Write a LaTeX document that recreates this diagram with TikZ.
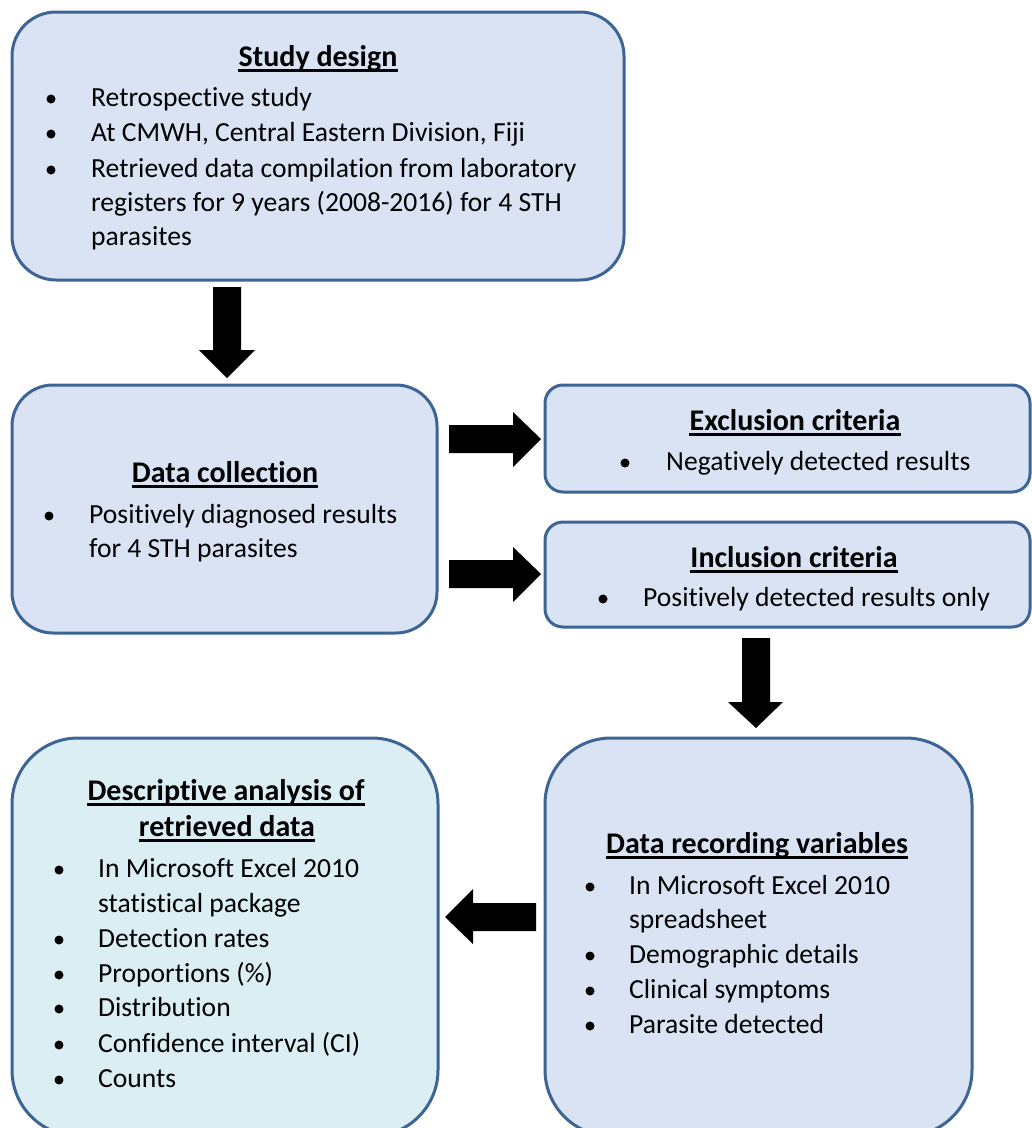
\documentclass[tikz,border=0pt]{standalone}
\usepackage{fontspec}
\setmainfont{Carlito}[RawFeature={-liga;-clig;-dlig}]
\definecolor{bfill}{HTML}{DAE3F3}
\definecolor{cfill}{HTML}{DAEEF3}
\definecolor{bline}{HTML}{3C6494}
\tikzset{
  box/.style={draw=bline, line width=3pt, fill=bfill, rectangle, inner sep=0pt},
  ttl/.style={font=\fontsize{30}{36}\selectfont\bfseries, inner sep=0pt, anchor=base},
  itm/.style={font=\fontsize{27.6}{34.6}\selectfont, inner sep=0pt, anchor=base west},
  dot/.style={circle, fill=black, inner sep=0pt, minimum size=9pt},
  blk/.style={fill=black},
  ul/.style={line width=2.5pt}
}
\begin{document}
\begin{tikzpicture}[x=1pt,y=-1pt]
\path[use as bounding box] (0,0) rectangle (1032,1128);
\clip (0,0) rectangle (1032,1128);
% boxes
\node[box, rounded corners=44pt, minimum width=612pt, minimum height=268pt] (b1) at (318,146) {};
\node[box, rounded corners=41pt, minimum width=425pt, minimum height=248pt] (b2) at (224.5,509) {};
\node[box, rounded corners=18pt, minimum width=485pt, minimum height=107pt] (b3) at (787.5,438.5) {};
\node[box, rounded corners=18pt, minimum width=485pt, minimum height=105pt] (b4) at (787.5,574.5) {};
\node[box, fill=cfill, rounded corners=66pt, minimum width=426pt, minimum height=398pt] (b5) at (225,937) {};
\node[box, rounded corners=66pt, minimum width=427pt, minimum height=398pt] (b6) at (758.5,937) {};
% arrows
\fill[blk] (213,287) -- (241,287) -- (241,350) -- (255,350) -- (227,378) -- (199,350) -- (213,350) -- cycle;
\fill[blk] (449,425) -- (513,425) -- (513,412) -- (541,439) -- (513,467) -- (513,453) -- (449,453) -- cycle;
\fill[blk] (449,560) -- (513,560) -- (513,547) -- (541,574) -- (513,602) -- (513,588) -- (449,588) -- cycle;
\fill[blk] (742,638) -- (770,638) -- (770,702) -- (783,702) -- (756,728) -- (728,702) -- (742,702) -- cycle;
\fill[blk] (536,903) -- (473,903) -- (473,889) -- (445,917) -- (473,944) -- (473,931) -- (536,931) -- cycle;
% box 1
\node[ttl] (t1) at (318,66) {Study design};
\draw[ul] ([yshift=-4.5pt]t1.base west) -- ([yshift=-4.5pt]t1.base east);
\node[dot] (d11) at (51,99) {};
\node[itm] (i11) at (91,106) {Retrospective study};
\node[dot] (d12) at (51,134) {};
\node[itm] (i12) at (91,141) {At CMWH, Central Eastern Division, Fiji};
\node[dot] (d13) at (51,170) {};
\node[itm] (i13a) at (91,177) {Retrieved data compilation from laboratory};
\node[itm] (i13b) at (91,211) {registers for 9 years (2008-2016) for 4 STH};
\node[itm] (i13c) at (91,245) {parasites};
% box 2
\node[ttl] (t2) at (225,482) {Data collection};
\draw[ul] ([yshift=-4.5pt]t2.base west) -- ([yshift=-4.5pt]t2.base east);
\node[dot] (d21) at (49,516) {};
\node[itm] (i21) at (89,523) {Positively diagnosed results};
\node[itm] (i22) at (89,557) {for 4 STH parasites};
% box 3
\node[ttl] (t3) at (795,430) {Exclusion criteria};
\draw[ul] ([yshift=-4.5pt]t3.base west) -- ([yshift=-4.5pt]t3.base east);
\node[dot] (d31) at (625,463) {};
\node[itm] (i31) at (666,470) {Negatively detected results};
% box 4
\node[ttl] (t4) at (794,567) {Inclusion criteria};
\draw[ul] ([yshift=-4.5pt]t4.base west) -- ([yshift=-4.5pt]t4.base east);
\node[dot] (d41) at (603,599) {};
\node[itm] (i41) at (643,606) {Positively detected results only};
% box 5
\node[ttl] (t5a) at (226,800) {Descriptive analysis of};
\draw[ul] ([yshift=-4.5pt]t5a.base west) -- ([yshift=-4.5pt]t5a.base east);
\node[ttl] (t5b) at (227,836) {retrieved data};
\draw[ul] ([yshift=-4.5pt]t5b.base west) -- ([yshift=-4.5pt]t5b.base east);
\node[dot] (d51) at (59,870) {};
\node[itm] (i51) at (98,877) {In Microsoft Excel 2010};
\node[itm] (i52) at (98,912) {statistical package};
\node[dot] (d53) at (59,940) {};
\node[itm] (i53) at (98,947) {Detection rates};
\node[dot] (d54) at (59,975) {};
\node[itm] (i54) at (98,982) {Proportions (\%)};
\node[dot] (d55) at (59,1009) {};
\node[itm] (i55) at (98,1016) {Distribution};
\node[dot] (d56) at (59,1045) {};
\node[itm] (i56) at (98,1052) {Confidence interval (CI)};
\node[dot] (d57) at (59,1080) {};
\node[itm] (i57) at (98,1087) {Counts};
% box 6
\node[ttl, anchor=base west] (t6) at (606,853) {Data recording variables};
\draw[ul] ([yshift=-4.5pt]t6.base west) -- ([yshift=-4.5pt]t6.base east);
\node[dot] (d61) at (590,887) {};
\node[itm] (i61) at (629,894) {In Microsoft Excel 2010};
\node[itm] (i62) at (629,928) {spreadsheet};
\node[dot] (d63) at (590,956) {};
\node[itm] (i63) at (629,963) {Demographic details};
\node[dot] (d64) at (590,991) {};
\node[itm] (i64) at (629,998) {Clinical symptoms};
\node[dot] (d65) at (590,1026) {};
\node[itm] (i65) at (629,1033) {Parasite detected};
\end{tikzpicture}
\end{document}
